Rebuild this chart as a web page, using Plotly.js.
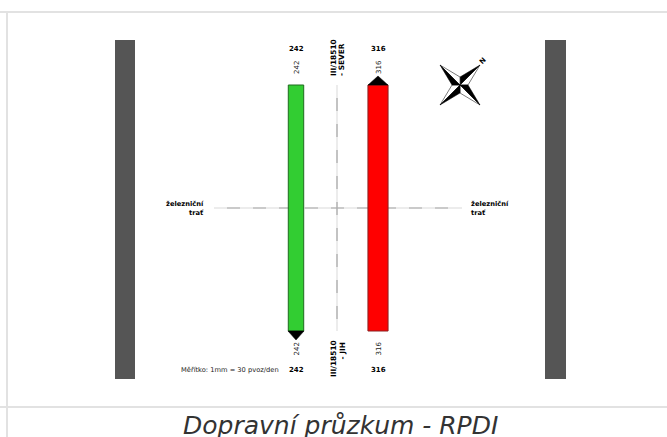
<!DOCTYPE html>
<html><head><meta charset="utf-8">
<script src="https://cdn.plot.ly/plotly-3.0.1.min.js"></script>
<style>html,body{margin:0;padding:0;background:#fff;overflow:hidden}</style>
</head><body><div id="chart" style="width:667px;height:437px"></div>
<script>
const flowLabels = ['242', '316'];
const flowValues = [242, 316];
const flowCentres = [296, 378];
const flowColours = ['#32cd32', '#ff0000'];
const flowOutlines = ['#1f6b1f', '#8a2020'];
const scale = 15.7;
const barTop = 85, barBottom = 331;
const wallCentres = [125, 555.5];
const wallWidths = [20, 21];
const wallTop = 40, wallBottom = 379;
const roadName = 'III/18510';
const roadNorth = '- SEVER';
const roadSouth = '- JIH';
const railLabel = 'železniční<br>trať';
const scaleNote = 'Měřítko: 1mm = 30 pvoz/den';
const titleText = 'Dopravní průzkum - RPDI';
const F = 'DejaVu Sans, sans-serif';

const traces = [];
traces.push({type:'bar', x:wallCentres, y:wallCentres.map(()=>wallBottom-wallTop), base:wallTop,
  width:wallWidths, marker:{color:'#555555', line:{width:0}}, hoverinfo:'skip'});
const line=(x,y,l)=>traces.push({type:'scatter',mode:'lines',x,y,line:l,hoverinfo:'skip'});
const poly=(x,y,fill,lc,lw)=>traces.push({type:'scatter',mode:'lines',x,y,fill:'toself',fillcolor:fill,line:{color:lc,width:lw},hoverinfo:'skip'});
line([214,462],[208,208],{color:'#ececec',width:2});
line([337,337],[85,331],{color:'#ececec',width:2});
line([227,448],[208,208],{color:'#a8a8a8',width:1.2,dash:'13px 13px'});
line([337,337],[98,319],{color:'#a8a8a8',width:1.2,dash:'13px 13px'});
flowValues.forEach((v,i)=>{
  const l=flowCentres[i]-v/scale/2, r=flowCentres[i]+v/scale/2;
  poly([l,r,r,l,l],[barTop,barTop,barBottom,barBottom,barTop],flowColours[i],flowOutlines[i],1);
});
const arrowGreenX=[288,304,296,288], arrowGreenY=[331,331,340,331];
const arrowRedX=[368,388,378,368], arrowRedY=[85,85,76,85];
poly(arrowGreenX,arrowGreenY,'#000','#000',0.5);
poly(arrowRedX,arrowRedY,'#000','#000',0.5);
// compass
const cx=460, cy=85, d=8;
const tips=[[480,65],[480,105],[440,105],[440,65]];
const inner=[[cx,cy-d],[cx+d,cy],[cx,cy+d],[cx-d,cy]];
tips.forEach((tp,i)=>{
  const a=inner[i], b=inner[(i+1)%4];
  poly([cx,tp[0],b[0],cx],[cy,tp[1],b[1],cy],'#fff','#444',0.7);
  poly([cx,a[0],tp[0],cx],[cy,a[1],tp[1],cy],'#000','#000',0.5);
});

function t(x,y,text,o){return Object.assign({x,y,text,xref:'x',yref:'y',showarrow:false,
  font:{family:F,size:7,color:'#000'},xanchor:'center',yanchor:'middle'},o||{});}
const bold=s=>'<b>'+s+'</b>';
const small={family:F,size:7,color:'#222'};
const road={family:F,size:7.4,color:'#000'};
const ann=[
 t(flowCentres[0],48.5,bold(flowLabels[0])),
 t(flowCentres[1],48.5,bold(flowLabels[1])),
 t(flowCentres[0],369.5,bold(flowLabels[0])),
 t(flowCentres[1],369.5,bold(flowLabels[1])),
 t(flowCentres[0]+0.5,67.5,flowLabels[0],{textangle:-90,font:small}),
 t(flowCentres[1]+0.5,67.5,flowLabels[1],{textangle:-90,font:small}),
 t(flowCentres[0]+0.5,349,flowLabels[0],{textangle:-90,font:small}),
 t(flowCentres[1]+0.5,349,flowLabels[1],{textangle:-90,font:small}),
 t(333.5,57.5,bold(roadName),{textangle:-90,font:road}),
 t(341.5,41,bold(roadNorth),{textangle:-90,yanchor:'top',font:road}),
 t(333.5,358.5,bold(roadName),{textangle:-90,font:road}),
 t(342,341,bold(roadSouth),{textangle:-90,yanchor:'top',font:road}),
 t(206,208,bold(railLabel),{xanchor:'right',align:'right',font:{family:F,size:6.7,color:'#000'}}),
 t(469,208,bold(railLabel),{xanchor:'left',align:'left',font:{family:F,size:6.7,color:'#000'}}),
 t(280.5,369.5,scaleNote,{xanchor:'right',font:{family:F,size:6.7,color:'#222'}}),
 t(483,61,bold('N'),{textangle:-45,font:{family:F,size:7,color:'#000'}}),
 t(340,425,'<i>'+titleText+'</i>',{font:{family:F,size:25,color:'#333'}})
];
const frame=[
 {type:'line',xref:'paper',yref:'y',x0:0,x1:1,y0:12,y1:12,line:{color:'#e2e2e2',width:2}},
 {type:'line',xref:'paper',yref:'y',x0:0,x1:1,y0:407,y1:407,line:{color:'#e2e2e2',width:2}},
 {type:'line',xref:'x',yref:'y',x0:7,x1:7,y0:12,y1:437,line:{color:'#e2e2e2',width:2}}
];
Plotly.newPlot('chart',traces,{
 width:667,height:437,margin:{l:0,r:0,t:0,b:0},showlegend:false,
 paper_bgcolor:'#fff',plot_bgcolor:'#fff',barmode:'overlay',
 xaxis:{range:[0,667],visible:false,fixedrange:true},
 yaxis:{range:[437,0],visible:false,fixedrange:true},
 annotations:ann,shapes:frame
},{staticPlot:true,displayModeBar:false});
</script></body></html>
